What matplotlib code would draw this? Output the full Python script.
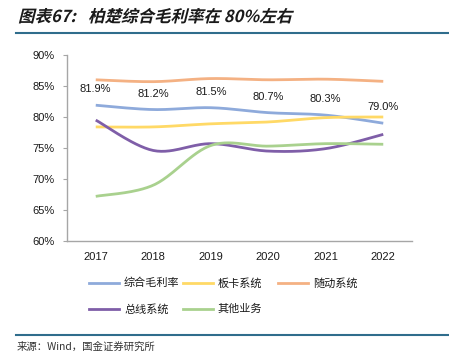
import numpy as np
import matplotlib
matplotlib.use("Agg")
import matplotlib.pyplot as plt
from matplotlib.font_manager import FontProperties
from matplotlib.textpath import TextPath
from matplotlib.patches import PathPatch
from matplotlib.transforms import Affine2D
from matplotlib.lines import Line2D

plt.rcParams['font.family'] = ['Liberation Sans', 'Noto Sans CJK SC', 'DejaVu Sans']

years = ['2017', '2018', '2019', '2020', '2021', '2022']
series_names = ['综合毛利率', '板卡系统', '随动系统', '总线系统', '其他业务']
gross = [81.9, 81.2, 81.5, 80.7, 80.3, 79.0]
board = [78.4, 78.4, 78.9, 79.2, 79.9, 80.0]
servo = [86.0, 85.7, 86.2, 86.0, 86.1, 85.75]
bus = [79.5, 74.6, 75.7, 74.5, 74.9, 77.2]
other = [67.2, 69.0, 75.4, 75.3, 75.7, 75.6]
gross_labels = ['81.9%', '81.2%', '81.5%', '80.7%', '80.3%', '79.0%']
yticks = [60, 65, 70, 75, 80, 85, 90]
title_parts = ['图表67: ', '柏楚综合毛利率在 80%左右']
source = '来源：Wind，国金证券研究所'

colors = ['#8eaadb', '#ffd966', '#f4b183', '#7f5ea8', '#a9d18e']
values = [gross, board, servo, bus, other]


def smooth(y, n=30):
    y = np.asarray(y, float)
    x = np.arange(len(y), dtype=float)
    xs, ys = [], []
    for i in range(len(y) - 1):
        p0 = np.array([x[max(i - 1, 0)], y[max(i - 1, 0)]])
        p1 = np.array([x[i], y[i]])
        p2 = np.array([x[i + 1], y[i + 1]])
        p3 = np.array([x[min(i + 2, len(y) - 1)], y[min(i + 2, len(y) - 1)]])
        c1 = p1 + (p2 - p0) / 6.0
        c2 = p2 - (p3 - p1) / 6.0
        t = np.linspace(0, 1, n)[:, None]
        b = ((1 - t) ** 3) * p1 + 3 * ((1 - t) ** 2) * t * c1 + 3 * (1 - t) * t ** 2 * c2 + t ** 3 * p2
        xs.extend(b[:, 0]); ys.extend(b[:, 1])
    return np.array(xs), np.array(ys)


W, H = 449, 355
fig = plt.figure(figsize=(W / 100, H / 100), dpi=100)
ax = fig.add_axes([67 / W, 114 / H, 345 / W, 186 / H])

for idx in [4, 3, 1, 2, 0]:
    xs, ys = smooth(values[idx])
    ax.plot(xs, ys, color=colors[idx], lw=2.0, solid_capstyle='butt', zorder=3 + idx * 0.1)

for i, lab in enumerate(gross_labels):
    ax.annotate(lab, (i, gross[i]), xytext=(0, 11.5), textcoords='offset points',
                ha='center', va='center', fontsize=8, color='#1a1a1a')

ax.set_xlim(-0.5, len(years) - 0.5)
ax.set_ylim(60, 90)
ax.set_xticks(range(len(years)))
ax.set_xticklabels(years)
ax.set_yticks(yticks)
ax.set_yticklabels([f'{v}%' for v in yticks])
for s in ['top', 'right']:
    ax.spines[s].set_visible(False)
for s in ['left', 'bottom']:
    ax.spines[s].set_color('#a6a6a6')
    ax.spines[s].set_linewidth(1.0)
ax.tick_params(axis='y', length=3, color='#a6a6a6', labelsize=8, pad=6, labelcolor='#1a1a1a')
ax.tick_params(axis='x', length=0, labelsize=8, pad=8, labelcolor='#1a1a1a')

leg_pos = [(89, 72), (183, 72), (278, 72), (89, 46), (183, 46)]
for (lx, ly), name, c in zip(leg_pos, series_names, colors):
    fig.add_artist(Line2D([lx / W, (lx + 30) / W], [ly / H, ly / H], color=c, lw=2.0,
                          transform=fig.transFigure))
    fig.text((lx + 35) / W, ly / H, name, fontsize=8, va='center', ha='left',
             family=['Noto Sans CJK SC'], color='#1a1a1a')

# title (bold, slanted), in two pieces to mimic spacing
fp = FontProperties(family='Noto Sans CJK SC', weight='bold')
x0 = 18
for part, start in zip(title_parts, [18, 88]):
    tp = TextPath((0, 0), part, size=16.5, prop=fp)
    tr = Affine2D().skew_deg(14, 0).translate(start, H - 22)
    fig.add_artist(PathPatch(tp, transform=tr, facecolor='#1a1a1a', edgecolor='none'))

fig.add_artist(Line2D([16 / W, 1], [(H - 32.5) / H] * 2, color='#2f6d8c', lw=1.5,
                      transform=fig.transFigure))
fig.add_artist(Line2D([16 / W, 1], [(H - 335) / H] * 2, color='#2f6d8c', lw=1.5,
                      transform=fig.transFigure))

fig.text(17 / W, (H - 347) / H, source, fontsize=7.5, va='center', ha='left',
         family=['Noto Sans CJK SC'], color='#333333')

fig.savefig('out.png', dpi=100)
